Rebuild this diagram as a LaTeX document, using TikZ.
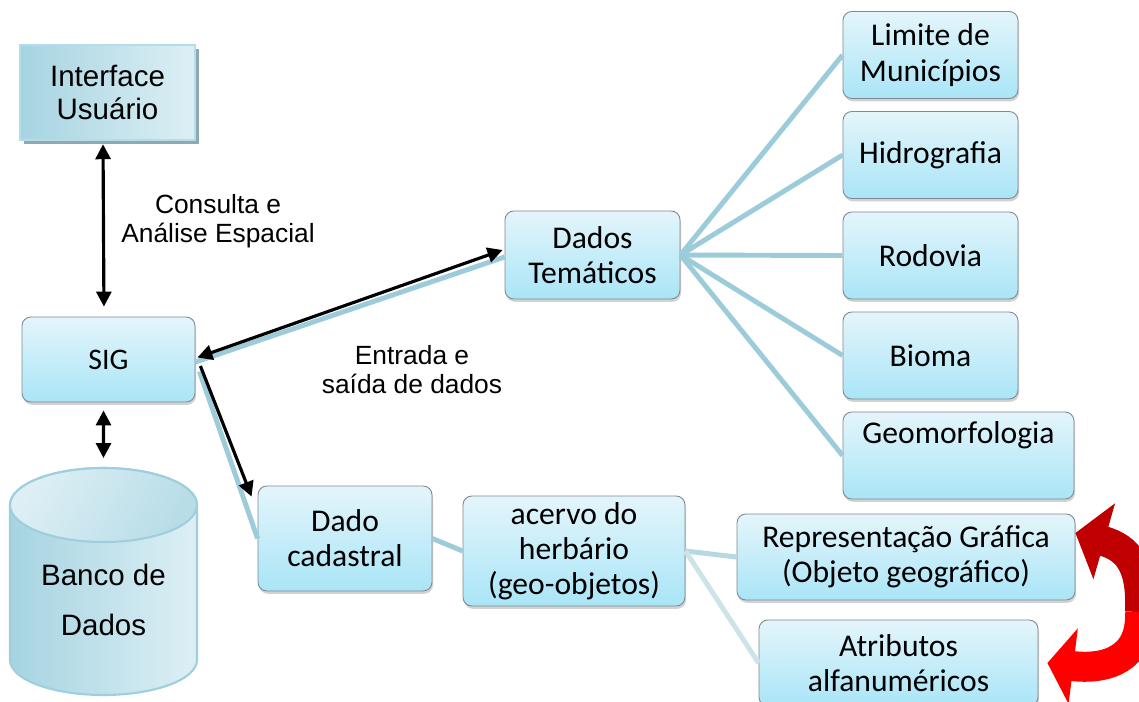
\documentclass[tikz,border=0pt]{standalone}
\usepackage{fontspec}
\setmainfont{Carlito}
\newfontfamily\arialfont{Liberation Sans}
\usetikzlibrary{arrows.meta,shadows,positioning}
\definecolor{boxtop}{HTML}{E4F5FB}
\definecolor{boxbot}{HTML}{A9E5F7}
\definecolor{boxline}{HTML}{7E8A90}
\definecolor{linkblue}{HTML}{9CCBDA}
\definecolor{linkpale}{HTML}{CCE3EA}
\definecolor{uidark}{HTML}{A6D4E1}
\definecolor{uilight}{HTML}{DDEFF5}
\definecolor{uiborder}{HTML}{B3DDE8}
\definecolor{uishadow}{HTML}{8FA8B2}
\definecolor{dbline}{HTML}{9FCFDD}
\definecolor{darkred}{HTML}{C00000}
\tikzset{
  box/.style={draw=boxline, line width=0.5pt, rounded corners=5pt,
    top color=boxtop, bottom color=boxbot, align=center,
    font=\fontsize{18}{20}\selectfont,
    drop shadow={shadow xshift=0.6pt, shadow yshift=-1.6pt, opacity=0.35}},
  uibox/.style={draw=uiborder, line width=1.4pt, left color=uidark, right color=uilight,
    align=center, font=\arialfont\fontsize{16.8}{18.7}\selectfont,
    drop shadow={fill=uishadow, opacity=1, shadow xshift=0.08cm, shadow yshift=-0.08cm}},
  lbl/.style={align=center, font=\arialfont\fontsize{15}{16.5}\selectfont},
  link/.style={linkblue, line width=2.8pt},
  biarrow/.style={{Triangle[length=0.3cm,width=0.3cm]}-{Triangle[length=0.3cm,width=0.3cm]}, line width=1.8pt},
  onearrow/.style={-{Triangle[length=0.3cm,width=0.3cm]}, line width=1.8pt},
  swap/.style={line width=0.6cm}
}

\begin{document}
\begin{tikzpicture}[x=0.02cm, y=-0.02cm]

    \useasboundingbox[fill=white] (0,0) rectangle (1139,701);

    % banco de dados
    \fill[left color=uidark, right color=uilight, draw=dbline, line width=1.2pt]
      (10,505) -- (10,660) arc[start angle=180, end angle=360, x radius=1.87cm, y radius=0.7cm]
      -- (197,505) arc[start angle=0, end angle=180, x radius=1.87cm, y radius=0.74cm] -- cycle;
    \draw[dbline, line width=1.2pt, top color=uilight, bottom color=uidark!80, shading angle=60]
      (103.5,505) ellipse[x radius=1.87cm, y radius=0.74cm];
    \node[font=\arialfont\fontsize{16.8}{28}\selectfont, align=center] (banco) at (103.5,600) {Banco de\\Dados};
    \coordinate (dbtop) at (103.5,468);

    \node[uibox, minimum width=3.5cm, minimum height=1.9cm] (ui) at (107.5,92.5) {Interface\\Usuário};
    \node[box, minimum width=3.46cm, minimum height=1.7cm, font=\fontsize{17}{19}\selectfont] (sig) at (108.5,359.5) {SIG};
    \node[box, minimum width=3.5cm, minimum height=1.76cm] (tem) at (592.5,255) {Dados\\Temáticos};
    \node[box, minimum width=3.48cm, minimum height=2.1cm] (cad) at (345,538.5) {Dado\\cadastral};
    \node[box, minimum width=4.44cm, minimum height=2.2cm] (acervo) at (574,551) {acervo do\\herbário\\(geo-objetos)};

    \foreach \name/\txt/\y in {lim/{Limite de\\Municípios}/55, hid/Hidrografia/155, rod/Rodovia/255.5, bio/Bioma/355.5}
    \node[box, minimum width=3.5cm, minimum height=1.74cm] (\name) at (930.5,\y) {\txt};
    \node[box, minimum width=4.62cm, minimum height=1.74cm, text height=0.42cm, text depth=0.92cm] (geo) at (958.5,455.5) {Geomorfologia};

    \node[box, minimum width=6.76cm, minimum height=1.72cm] (rep) at (906,557) {Representação Gráfica\\(Objeto geográfico)};
    \node[box, minimum width=5.58cm, minimum height=1.72cm] (atr) at (898.5,663) {Atributos\\alfanuméricos};

    \node[lbl] (consulta) at (218,221) {Consulta e\\Análise Espacial};
    \node[lbl] (entrada) at (412,370) {Entrada e\\saída de dados};

    % ligacoes
    \foreach \name in {lim,hid,rod,bio,geo}
    \draw[link] (tem.east) -- (\name.west);
    \draw[link] (cad.east) -- (acervo.west);
    \draw[link, linkblue!75] (acervo.east) -- (rep.west);
    \draw[link, linkpale] (acervo.east) -- (atr.west);

    \draw[link] ([yshift=-0.05cm]sig.east) -- ([yshift=-0.04cm]tem.west);
    \draw[biarrow] ([xshift=0.04cm,yshift=0.04cm]sig.east) -- ([xshift=-0.04cm,yshift=0.1cm]tem.west);
    \draw[link] ([xshift=0.08cm,yshift=-0.24cm]sig.east) -- (cad.west);
    \draw[onearrow] ([xshift=0.1cm,yshift=-0.13cm]sig.east) -- ([xshift=-0.12cm,yshift=-0.22cm]cad.north west);

    \draw[biarrow, shorten <=0.06cm, shorten >=0.2cm] ([xshift=-0.09cm]ui.south) -- ([xshift=-0.09cm]sig.north);
    \draw[biarrow, shorten <=0.16cm, shorten >=0.2cm] ([xshift=-0.1cm]sig.south) -- (dbtop);

    % setas vermelhas
    \coordinate (turn) at (1140,612);
    \draw[red, swap, -{Triangle[length=0.52cm,width=1.5cm]}] (turn) .. controls (1142,660) and (1105,670) .. ([xshift=0.18cm]atr.east);
    \draw[darkred, swap, -{Triangle[length=0.6cm,width=1.55cm]}] (turn) .. controls (1142,565) and (1128,548) .. ([yshift=0.48cm]rep.east);

\end{tikzpicture}
\end{document}
